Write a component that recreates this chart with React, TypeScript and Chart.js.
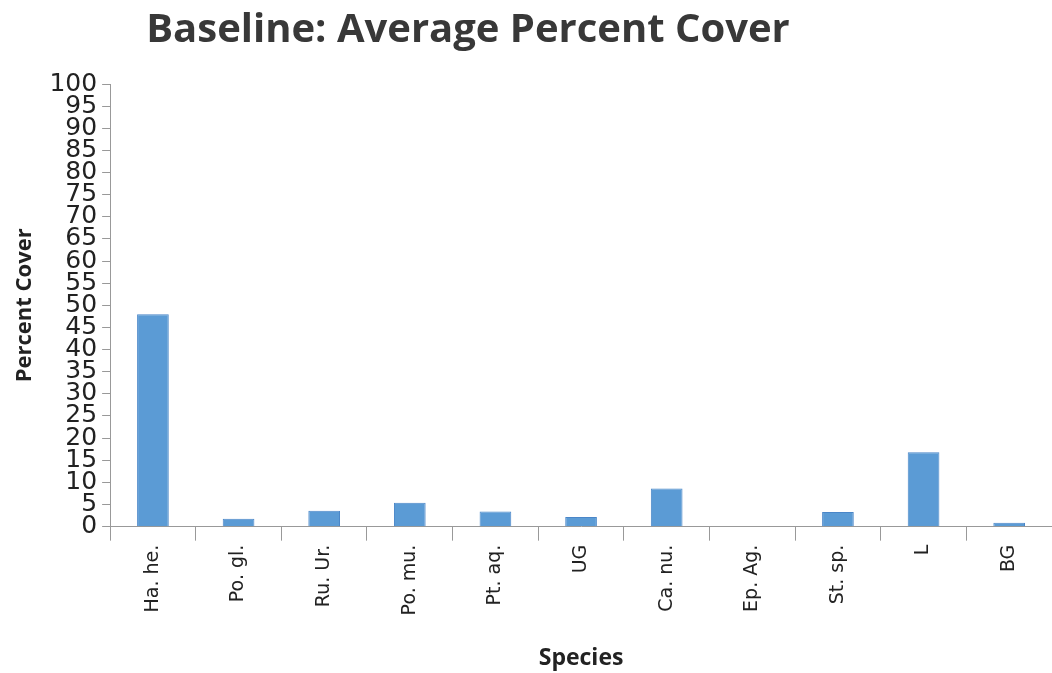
import React, { useEffect, useRef } from "react";
import { Chart, registerables } from "chart.js";

Chart.register(...registerables);

const categories = ["Ha. he.", "Po. gl.", "Ru. Ur.", "Po. mu.", "Pt. aq.", "UG", "Ca. nu.", "Ep. Ag.", "St. sp.", "L", "BG"];
const coverValues = [48, 1.8, 3.6, 5.4, 3.4, 2.2, 8.6, 0, 3.3, 16.8, 0.9];
const chartTitle = "Baseline: Average Percent Cover";
const yTitle = "Percent Cover";
const xTitle = "Species";

const titlePlugin = {
  id: "offsetTitle",
  afterDraw(chart: any) {
    const ctx = chart.ctx;
    ctx.save();
    ctx.font = "bold 40px 'Open Sans'";
    ctx.fillStyle = "#383838";
    ctx.textAlign = "center";
    ctx.textBaseline = "middle";
    ctx.fillText(chartTitle, 468, 31);
    ctx.restore();
  },
};

export default function App() {
  const ref = useRef<HTMLCanvasElement>(null);
  useEffect(() => {
    if (!ref.current) return;
    const chart = new Chart(ref.current, {
      type: "bar",
      data: {
        labels: categories,
        datasets: [
          {
            data: coverValues,
            backgroundColor: "#5b9bd5",
            borderColor: "#4a86c8",
            borderWidth: 1,
            barPercentage: 0.37,
            categoryPercentage: 1,
          },
        ],
      },
      plugins: [titlePlugin],
      options: {
        animation: false,
        responsive: false,
        layout: { padding: { left: 12, right: 0, top: 84, bottom: 1 } },
        plugins: {
          legend: { display: false },
          tooltip: { enabled: false },
          title: { display: false },
        },
        scales: {
          x: {
            grid: { display: true, drawOnChartArea: false, offset: true, color: "#999", tickLength: 14 },
            border: { display: true, color: "#999", width: 1 },
            ticks: {
              color: "#222",
              font: { family: "DejaVu Sans", size: 19 },
              maxRotation: 90,
              minRotation: 90,
              autoSkip: false,
              padding: 4,
            },
            title: {
              display: true,
              text: xTitle,
              color: "#222",
              font: { family: "Open Sans", size: 23, weight: "bold" },
              padding: { top: 25, bottom: 0 },
            },
          },
          y: {
            min: 0,
            max: 100,
            grid: { display: true, drawOnChartArea: false, color: "#999", tickLength: 8 },
            border: { display: true, color: "#999", width: 1 },
            ticks: {
              stepSize: 5,
              autoSkip: false,
              color: "#222",
              font: { family: "DejaVu Sans", size: 25, lineHeight: 0.9 },
              padding: 5,
            },
            title: {
              display: true,
              text: yTitle,
              color: "#222",
              font: { family: "Open Sans", size: 22, weight: "bold" },
              padding: { top: 0, bottom: 6 },
            },
          },
        },
      },
    });
    return () => chart.destroy();
  }, []);
  return (
    <div style={{ position: "fixed", left: 0, top: 0, width: 1052, height: 673, background: "#fff" }}>
      <canvas ref={ref} width={1052} height={673} />
    </div>
  );
}
